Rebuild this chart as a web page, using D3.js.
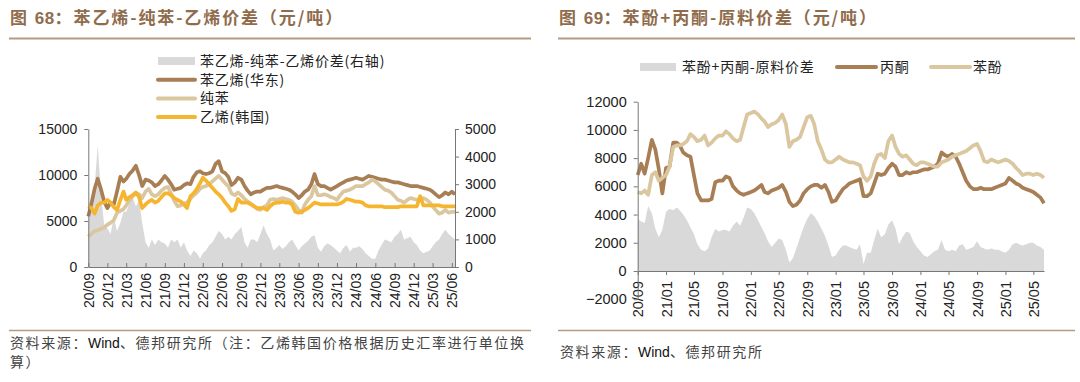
<!DOCTYPE html>
<html><head><meta charset="utf-8">
<script src="https://cdn.jsdelivr.net/npm/d3@7"></script>
<style>body{margin:0;background:#fff}svg{display:block}</style>
</head><body>
<svg id="c" width="1080" height="382"></svg>
<script>
// ---------- Left chart (图68) data: semi-monthly points from 2020-09 ----------
const leftTickLabels = ["20/09","20/12","21/03","21/06","21/09","21/12","22/03","22/06","22/09","22/12","23/03","23/06","23/09","23/12","24/03","24/06","24/09","24/12","25/03","25/06"];
const styrene = [5.5,6.9,8.5,9.6,8.4,7.1,6.4,7.0,6.8,8.2,9.8,9.3,9.6,10.1,10.5,11.0,10.0,8.8,9.5,9.4,9.2,8.8,9.0,9.4,9.9,9.5,9.0,8.4,8.5,8.6,8.9,9.1,9.0,9.8,10.3,10.4,10.2,10.1,10.2,10.4,11.2,11.5,10.4,10.2,9.8,8.9,9.2,9.7,9.5,8.8,8.3,7.9,8.1,8.2,8.2,8.4,8.6,8.6,8.7,8.8,8.7,8.6,8.5,8.4,8.2,7.9,7.5,7.8,8.2,8.4,9.0,10.1,9.0,8.8,8.8,8.6,8.4,8.6,8.8,9.0,9.2,9.4,9.5,9.6,9.7,9.6,9.5,9.7,9.9,9.8,9.7,9.6,9.5,9.5,9.4,9.3,9.2,9.2,9.1,9.0,8.9,8.8,8.8,8.8,8.7,8.6,8.5,8.4,8.2,7.9,7.6,7.8,8.1,7.9,8.2,7.9];
const benzene = [3.3,3.6,3.9,4.0,4.15,4.3,4.6,4.8,5.1,5.9,6.1,6.3,6.7,7.2,7.7,8.0,7.9,7.5,8.2,8.5,7.9,7.7,7.9,8.3,8.6,8.7,8.0,7.2,6.6,6.7,6.9,7.0,7.4,7.8,8.1,8.5,8.7,8.8,9.0,9.3,9.6,9.9,9.5,9.1,8.8,8.0,7.8,8.1,7.8,7.4,7.1,6.9,6.6,6.3,6.2,6.5,6.7,7.3,7.4,7.3,7.4,7.5,7.4,7.3,7.1,6.7,6.2,5.9,6.8,7.3,7.7,8.8,7.8,7.8,7.9,7.8,7.6,7.5,7.3,7.8,8.2,8.3,8.4,8.6,8.8,8.8,8.8,9.0,9.2,9.5,9.3,9.0,8.7,8.4,8.3,8.1,7.7,7.3,7.2,7.0,7.3,7.5,7.4,7.3,7.4,7.5,7.3,7.0,6.6,6.2,5.8,5.9,6.2,5.9,6.0,6.0];
const ethyleneKR = [6.6,6.4,5.8,6.7,7.0,7.0,7.3,7.0,6.5,6.2,7.3,8.2,7.3,7.6,7.8,8.1,7.6,6.4,6.8,7.1,7.3,7.0,7.2,7.6,8.0,8.0,7.8,7.5,7.3,7.1,6.8,6.4,7.7,8.0,8.5,9.1,9.7,9.4,9.0,8.6,8.2,7.9,7.5,7.0,6.6,6.1,6.3,7.4,7.0,7.0,7.0,6.8,6.6,6.4,6.4,6.4,6.2,6.6,6.9,7.0,7.0,7.1,7.0,7.0,6.8,6.0,5.9,6.0,6.2,6.4,6.7,7.0,6.9,6.8,6.8,6.8,6.8,6.8,6.8,6.9,7.1,7.4,7.3,7.2,7.1,7.1,7.0,6.7,6.6,6.6,6.6,6.6,6.6,6.5,6.5,6.5,6.5,6.5,6.6,6.6,6.6,6.6,6.6,6.6,7.7,6.7,6.7,6.7,6.7,6.7,6.7,6.6,6.6,6.6,6.6,6.6];
const spreadLeft = [1.5,2.3,2.9,4.4,2.6,1.5,1.4,1.2,1.8,1.3,1.6,2.0,2.0,2.3,2.5,2.2,2.4,1.6,0.9,0.7,1.0,0.8,1.0,0.9,0.85,0.7,1.0,0.9,1.0,0.7,0.9,0.6,0.4,0.6,0.5,0.3,0.5,0.6,0.8,0.9,1.1,1.3,1.2,1.0,1.1,1.0,1.2,1.3,1.45,0.9,0.7,1.0,1.0,0.9,1.2,1.5,1.2,1.0,0.6,0.7,0.8,0.65,0.75,0.9,1.0,0.8,0.6,0.75,0.85,0.95,1.1,1.15,0.7,0.55,0.75,0.85,0.8,0.7,0.6,0.5,0.7,0.8,0.55,0.7,0.7,0.75,0.65,0.5,0.4,0.3,0.3,0.6,0.8,1.0,0.95,0.9,1.1,1.2,1.35,1.0,1.05,1.1,0.9,0.8,0.6,0.5,0.55,0.6,0.75,0.9,1.0,1.2,1.35,1.2,1.1,1.0];

// ---------- Right chart (图69) data ----------
const rightTickLabels = ["20/09","21/01","21/05","21/09","22/01","22/05","22/09","23/01","23/05","23/09","24/01","24/05","24/09","25/01","25/05"];
const phenol = [5.6,5.5,5.7,5.4,6.8,7.0,6.4,6.6,6.8,7.4,8.8,8.9,8.9,9.0,9.2,9.7,9.5,9.2,9.3,9.6,8.9,9.1,9.4,9.6,9.6,9.9,9.7,9.4,9.2,9.3,10.2,11.1,11.2,11.3,11.1,10.8,10.6,10.2,10.4,10.5,10.7,11.1,10.4,8.8,9.2,9.3,9.5,10.2,10.9,11.0,10.4,9.2,8.6,7.9,7.7,7.7,7.9,8.1,7.9,7.8,7.7,7.7,7.6,7.5,6.7,6.4,6.7,7.6,8.2,8.3,8.0,9.2,9.6,8.8,8.3,8.1,8.2,7.9,7.6,7.5,7.7,7.7,7.6,7.5,7.4,7.4,7.7,7.8,7.9,8.1,8.2,8.3,8.4,8.5,8.7,8.9,9.0,8.5,7.8,7.7,7.9,7.8,7.7,7.8,7.9,7.8,7.6,7.3,7.1,6.8,6.9,6.9,6.8,6.9,6.8,6.6];
const acetone = [6.8,7.6,6.9,8.0,9.3,8.6,7.2,5.5,7.3,7.4,9.1,9.1,8.9,8.4,8.2,8.1,6.8,5.5,5.0,5.0,5.0,5.1,6.3,6.4,6.4,6.7,6.6,6.0,5.7,5.5,5.4,5.5,5.6,5.7,5.9,6.1,5.6,5.5,5.7,5.8,5.9,6.1,5.6,4.9,4.6,4.7,5.0,5.5,5.8,6.0,6.1,6.1,5.9,6.1,5.6,4.9,5.0,5.4,5.8,6.0,6.2,6.3,6.4,6.5,5.3,5.3,5.5,6.2,6.9,6.8,6.9,7.3,7.6,7.4,6.8,6.8,7.0,6.9,7.0,7.0,7.1,7.2,7.2,7.3,7.4,7.6,8.4,8.2,8.1,8.3,8.1,7.6,7.0,6.4,6.0,5.8,5.8,5.9,5.8,5.8,5.8,5.9,6.0,6.1,6.2,6.6,6.4,6.2,6.1,5.9,5.8,5.7,5.6,5.4,5.2,4.8];
const spreadRight = [3.7,3.5,3.4,4.6,4.1,3.0,2.4,2.9,4.2,4.4,4.3,4.5,4.3,4.0,3.6,3.1,2.6,1.9,1.5,1.4,1.6,2.4,3.0,2.8,2.9,2.9,2.8,3.2,3.5,3.2,3.8,4.5,4.4,4.1,3.6,3.1,2.7,2.1,1.7,2.0,2.3,2.2,1.5,0.6,0.9,1.6,2.4,3.1,3.7,4.1,3.9,3.5,3.0,2.5,1.8,1.0,1.1,1.5,1.8,1.8,1.7,1.6,1.5,1.9,0.5,1.3,1.3,2.2,3.0,2.4,2.6,3.3,3.6,3.0,1.9,2.4,2.8,2.7,2.1,1.7,1.4,1.1,1.0,1.2,1.4,1.5,2.2,1.5,1.4,1.5,1.4,1.8,1.9,1.5,1.6,1.7,2.1,1.7,1.6,1.5,1.6,1.5,1.5,1.4,1.3,1.5,1.9,2.0,1.9,1.8,1.9,2.0,2.0,1.8,1.7,1.5];

// semi-monthly dates (1st and 16th) starting Sep 2020
const dateAt = i => new Date(2020, 8 + Math.floor(i / 2), i % 2 ? 16 : 1);
const labelDate = s => { const [yy, mm] = s.split("/"); return new Date(2000 + +yy, +mm - 1, 1); };

const C = { gray:"#d9d9d9", brown:"#a87e55", tan:"#dac79f", orange:"#f6b52e", title:"#8f6c4c", rule:"#b89a7e", text:"#222" };
const NUM = "'Liberation Sans', Arial, sans-serif";
const CJK = "'Noto Sans CJK SC', sans-serif";
const fmt = d3.format("d");

const svg = d3.select("#c");

function header(x0, x1, title, num) {
  const t = svg.append("text").attr("x", x0 + 1).attr("y", 24).attr("font-family", CJK)
    .attr("font-size", 17).attr("fill", C.title).attr("font-weight", 700).attr("letter-spacing", 1.9);
  t.append("tspan").text("图 ");
  t.append("tspan").attr("font-family", NUM).attr("letter-spacing", 0.5).text(num);
  t.append("tspan").text("：" + title);
  svg.append("line").attr("x1", x0).attr("x2", x1).attr("y1", 38.5).attr("y2", 38.5)
    .attr("stroke", C.rule).attr("stroke-width", 2);
  svg.append("line").attr("x1", x0).attr("x2", x1).attr("y1", 330.5).attr("y2", 330.5)
    .attr("stroke", C.rule).attr("stroke-width", 1.5);
}

function footer(x, y, rest) {
  const ft = svg.append("text").attr("font-family", CJK).attr("font-size", 14).attr("fill", "#444").attr("letter-spacing", 1.6);
  ft.append("tspan").attr("x", x).attr("y", y).text("资料来源：");
  ft.append("tspan").attr("font-family", NUM).attr("fill", "#111").attr("letter-spacing", 0).text("Wind");
  ft.append("tspan").text(rest);
  return ft;
}

// ---------------- Left chart ----------------
header(9, 531, "苯乙烯-纯苯-乙烯价差（元/吨）", "68");
{
  const x = d3.scaleTime().domain([new Date(2020, 8, 1), new Date(2025, 5, 16)]).range([88.3, 455]);
  const yL = d3.scaleLinear().domain([0, 15000]).range([267, 129]);
  const yR = d3.scaleLinear().domain([0, 5000]).range([267, 129]);
  const g = svg.append("g");
  const area = d3.area().x((d, i) => x(dateAt(i))).y0(yR(0)).y1(d => yR(d * 1000));
  g.append("path").datum(spreadLeft).attr("d", area).attr("fill", C.gray);
  const line = d3.line().x((d, i) => x(dateAt(i))).y(d => yL(d * 1000));
  [[styrene, C.brown], [benzene, C.tan], [ethyleneKR, C.orange]].forEach(([arr, col]) => {
    g.append("path").datum(arr).attr("d", line).attr("fill", "none").attr("stroke", col)
      .attr("stroke-width", 3.7).attr("stroke-linejoin", "round");
  });
  const ax = g.append("g").attr("transform", "translate(0,267)")
    .call(d3.axisBottom(x).tickValues(leftTickLabels.map(labelDate)).tickFormat((d, i) => leftTickLabels[i]).tickSizeInner(-4).tickSizeOuter(0).tickPadding(0));
  ax.selectAll("text").attr("transform", "rotate(-90)").attr("text-anchor", "end")
    .attr("dy", "0.35em").attr("x", -6).attr("y", 0);
  const ay = g.append("g").attr("transform", "translate(88.3,0)")
    .call(d3.axisLeft(yL).tickValues([0, 5000, 10000, 15000]).tickFormat(fmt).tickSizeInner(4).tickSizeOuter(0).tickPadding(7));
  const ayr = g.append("g").attr("transform", "translate(455,0)")
    .call(d3.axisRight(yR).tickValues([0, 1000, 2000, 3000, 4000, 5000]).tickFormat(fmt).tickSizeInner(4).tickSizeOuter(0).tickPadding(6));
  [ax, ay, ayr].forEach(a => {
    a.selectAll("text").attr("font-family", NUM).attr("font-size", 14).attr("fill", C.text);
    a.selectAll("line,path").attr("stroke", "#777").attr("stroke-width", 1);
  });
  // legend
  const lg = svg.append("g").attr("font-family", CJK).attr("font-size", 14).attr("fill", C.text).attr("letter-spacing", 0.8);
  const items = [["苯乙烯-纯苯-乙烯价差(右轴)", C.gray, "rect"], ["苯乙烯(华东)", C.brown, "line"], ["纯苯", C.tan, "line"], ["乙烯(韩国)", C.orange, "line"]];
  items.forEach(([lab, col, kind], i) => {
    const yy = 61 + i * 18.7;
    if (kind === "rect") lg.append("rect").attr("x", 158).attr("y", yy - 4).attr("width", 37).attr("height", 8).attr("fill", col);
    else lg.append("line").attr("x1", 158).attr("x2", 195).attr("y1", yy).attr("y2", yy).attr("stroke", col).attr("stroke-width", 4).attr("stroke-linecap", "round");
    lg.append("text").attr("x", 200).attr("y", yy).attr("dy", "0.36em").text(lab);
  });
  footer(10, 348, "、德邦研究所（注：乙烯韩国价格根据历史汇率进行单位换");
  svg.append("text").attr("font-family", CJK).attr("font-size", 14).attr("fill", "#444").attr("letter-spacing", 1.6).attr("x", 10).attr("y", 367).text("算）");
}

// ---------------- Right chart ----------------
header(558, 1075, "苯酚+丙酮-原料价差（元/吨）", "69");
{
  const x = d3.scaleTime().domain([new Date(2020, 8, 1), new Date(2025, 5, 16)]).range([637.7, 1044]);
  const y = d3.scaleLinear().domain([-2000, 12000]).range([299.2, 101.7]);
  const g = svg.append("g");
  const area = d3.area().x((d, i) => x(dateAt(i))).y0(y(0)).y1(d => y(d * 1000));
  g.append("path").datum(spreadRight).attr("d", area).attr("fill", C.gray);
  const line = d3.line().x((d, i) => x(dateAt(i))).y(d => y(d * 1000));
  [[acetone, C.brown], [phenol, C.tan]].forEach(([arr, col]) => {
    g.append("path").datum(arr).attr("d", line).attr("fill", "none").attr("stroke", col)
      .attr("stroke-width", 3.7).attr("stroke-linejoin", "round");
  });
  const ax = g.append("g").attr("transform", `translate(0,${y(0)})`)
    .call(d3.axisBottom(x).tickValues(rightTickLabels.map(labelDate)).tickFormat((d, i) => rightTickLabels[i]).tickSizeInner(4).tickSizeOuter(0).tickPadding(0));
  ax.selectAll("text").attr("transform", "rotate(-90)").attr("text-anchor", "end")
    .attr("dy", "0.35em").attr("x", -10).attr("y", 0);
  const ay = g.append("g").attr("transform", "translate(637.7,0)")
    .call(d3.axisLeft(y).tickValues(d3.range(-2000, 12001, 2000)).tickFormat(fmt).tickSizeInner(4).tickSizeOuter(0).tickPadding(7));
  [ax, ay].forEach(a => {
    a.selectAll("text").attr("font-family", NUM).attr("font-size", 14.5).attr("fill", C.text);
    a.selectAll("line,path").attr("stroke", "#777").attr("stroke-width", 1);
  });
  const lg = svg.append("g").attr("font-family", CJK).attr("font-size", 14).attr("fill", C.text).attr("letter-spacing", 0.8);
  lg.append("rect").attr("x", 640).attr("y", 63).attr("width", 36).attr("height", 8).attr("fill", C.gray);
  lg.append("text").attr("x", 682).attr("y", 67).attr("dy", "0.36em").text("苯酚+丙酮-原料价差");
  lg.append("line").attr("x1", 837).attr("x2", 876).attr("y1", 67).attr("y2", 67).attr("stroke", C.brown).attr("stroke-width", 4).attr("stroke-linecap", "round");
  lg.append("text").attr("x", 880).attr("y", 67).attr("dy", "0.36em").text("丙酮");
  lg.append("line").attr("x1", 931).attr("x2", 970).attr("y1", 67).attr("y2", 67).attr("stroke", C.tan).attr("stroke-width", 4).attr("stroke-linecap", "round");
  lg.append("text").attr("x", 973).attr("y", 67).attr("dy", "0.36em").text("苯酚");
  footer(560, 357, "、德邦研究所");
}
</script>
</body></html>
